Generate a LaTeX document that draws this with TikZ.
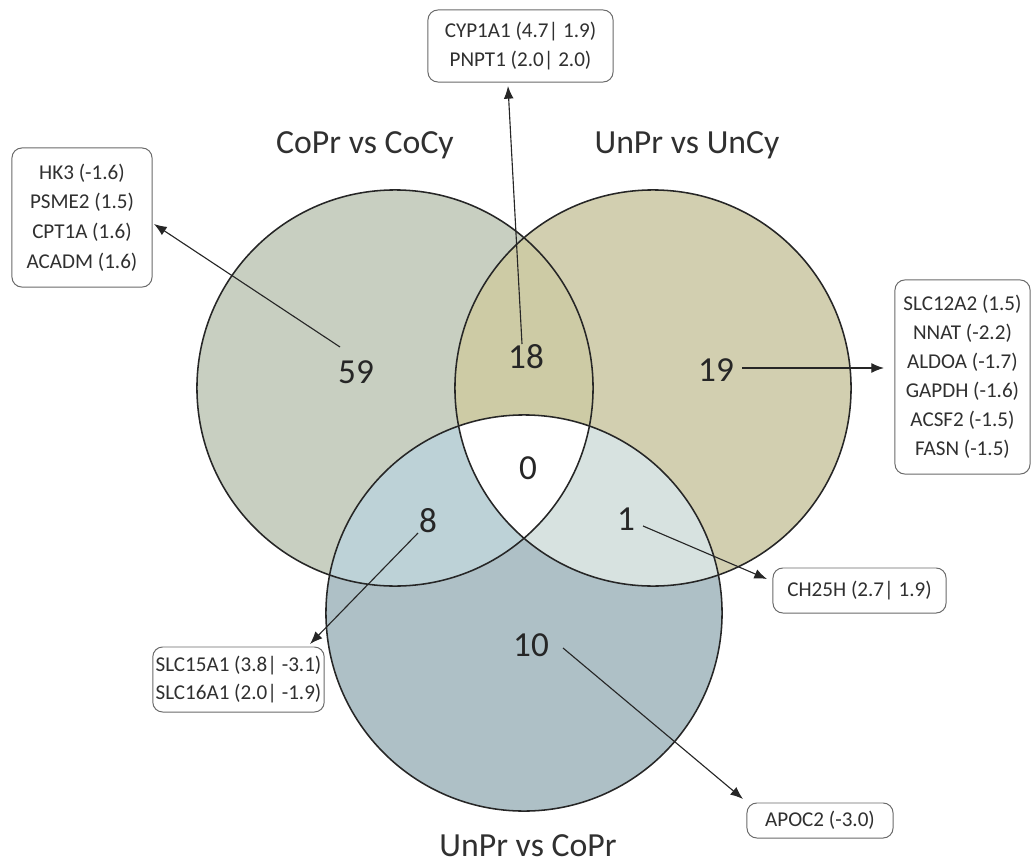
\documentclass[tikz,border=0pt]{standalone}
\usepackage{fontspec}
\setmainfont{Carlito}
\usetikzlibrary{arrows.meta}
\definecolor{cL}{HTML}{C8CFC1}
\definecolor{cR}{HTML}{D2CFB0}
\definecolor{cB}{HTML}{AEC0C6}
\definecolor{cLR}{HTML}{CDCBA5}
\definecolor{cLB}{HTML}{BDD2D7}
\definecolor{cRB}{HTML}{D7E2E0}
\definecolor{txt}{HTML}{303030}
\definecolor{boxline}{HTML}{6A6A6A}
\tikzset{
  genebox/.style={draw=boxline, line width=0.7pt, rounded corners=7pt, fill=white,
    align=center, text=txt, font=\fontsize{15}{21}\selectfont, inner sep=2pt},
  setlabel/.style={text=txt, font=\fontsize{24}{28}\selectfont},
  count/.style={text=black!85, font=\fontsize{25}{30}\selectfont},
  pointer/.style={draw=black!85, line width=0.8pt, -{Latex[length=9pt,width=7pt]}},
  ring/.style={draw=black!85, line width=1.1pt}
}
\begin{document}
\begin{tikzpicture}[x=0.025cm,y=-0.025cm]
\useasboundingbox (0,0) rectangle (1034,868);
\def\rad{4.95cm}
\coordinate (cl) at (395,388);
\coordinate (cr) at (653,388);
\coordinate (cb) at (524,613);
% fills
\fill[cL] (cl) circle[radius=\rad];
\fill[cR] (cr) circle[radius=\rad];
\fill[cB] (cb) circle[radius=\rad];
\begin{scope}
  \clip (cl) circle[radius=\rad];
  \fill[cLR] (cr) circle[radius=\rad];
  \fill[cLB] (cb) circle[radius=\rad];
\end{scope}
\begin{scope}
  \clip (cr) circle[radius=\rad];
  \fill[cRB] (cb) circle[radius=\rad];
  \clip (cl) circle[radius=\rad];
  \fill[white] (cb) circle[radius=\rad];
\end{scope}
\draw[ring] (cl) circle[radius=\rad];
\draw[ring] (cr) circle[radius=\rad];
\draw[ring] (cb) circle[radius=\rad];
% set labels
\node[setlabel] (tL) at (365,145) {CoPr vs CoCy};
\node[setlabel] (tR) at (687,145) {UnPr vs UnCy};
\node[setlabel] (tB) at (528,846) {UnPr vs CoPr};
% counts
\node[count] (n59) at (356,372) {59};
\node[count] (n18) at (526,357) {18};
\node[count] (n19) at (716,370) {19};
\node[count] (n0) at (528,468) {0};
\node[count] (n8) at (428,521) {8};
\node[count] (n1) at (626,519) {1};
\node[count] (n10) at (531,645) {10};
% boxes
\node[genebox, minimum width=4.625cm, minimum height=1.8cm] (bTop) at (520.5,46) {CYP1A1 (4.7| 1.9)\\PNPT1 (2.0| 2.0)};
\node[genebox, minimum width=3.5cm, minimum height=3.475cm] (bHK) at (82,217.5) {HK3 (-1.6)\\PSME2 (1.5)\\CPT1A (1.6)\\ACADM (1.6)};
\node[genebox, minimum width=3.375cm, minimum height=4.85cm, font=\fontsize{15}{20.6}\selectfont] (bR) at (962.5,377) {SLC12A2 (1.5)\\NNAT (-2.2)\\ALDOA (-1.7)\\GAPDH (-1.6)\\ACSF2 (-1.5)\\FASN (-1.5)};
\node[genebox, minimum width=4.325cm, minimum height=1.125cm] (bCH) at (859.5,590.5) {CH25H (2.7| 1.9)};
\node[genebox, minimum width=4.075cm, minimum height=1.625cm, font=\fontsize{15}{20.6}\selectfont] (bSLC) at (238.5,679.5) {SLC15A1 (3.8| -3.1)\\SLC16A1 (2.0| -1.9)};
\node[genebox, minimum width=3.65cm, minimum height=0.875cm] (bAP) at (820,820.5) {APOC2 (-3.0)};
% pointer ends
\coordinate (s59) at (340,347);
\coordinate (e59) at (154,224);
\coordinate (s18) at (522,344);
\coordinate (e18) at (508,86);
\coordinate (s19) at (742,368);
\coordinate (e19) at (884,368);
\coordinate (s1) at (643,526);
\coordinate (e1) at (767,579);
\coordinate (s8) at (418,533);
\coordinate (e8) at (310,644);
\coordinate (s10) at (563,648);
\coordinate (e10) at (743,799);
\draw[pointer] (s59) -- (e59);
\draw[pointer] (s18) -- (e18);
\draw[pointer] (s19) -- (e19);
\draw[pointer] (s1) -- (e1);
\draw[pointer] (s8) -- (e8);
\draw[pointer] (s10) -- (e10);
\end{tikzpicture}
\end{document}
